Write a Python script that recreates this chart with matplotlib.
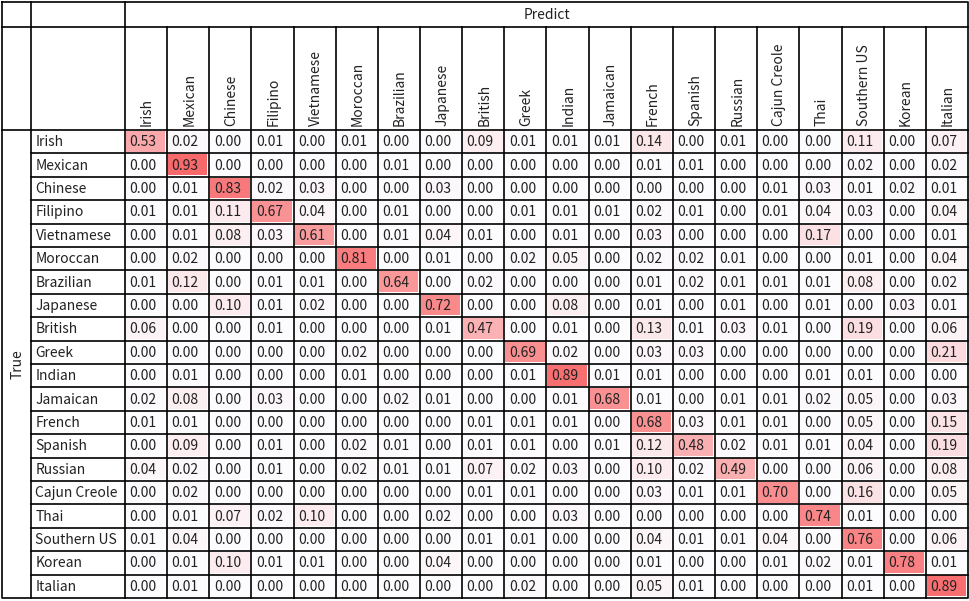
import numpy as np
import matplotlib
matplotlib.use('Agg')
import matplotlib.pyplot as plt
from matplotlib.patches import Rectangle
from matplotlib.colors import LinearSegmentedColormap

labels = ['Irish', 'Mexican', 'Chinese', 'Filipino', 'Vietnamese', 'Moroccan', 'Brazilian',
          'Japanese', 'British', 'Greek', 'Indian', 'Jamaican', 'French', 'Spanish', 'Russian',
          'Cajun Creole', 'Thai', 'Southern US', 'Korean', 'Italian']

row_irish       = [0.53,0.02,0.00,0.01,0.00,0.01,0.00,0.00,0.09,0.01,0.01,0.01,0.14,0.00,0.01,0.00,0.00,0.11,0.00,0.07]
row_mexican     = [0.00,0.93,0.00,0.00,0.00,0.00,0.01,0.00,0.00,0.00,0.00,0.00,0.01,0.01,0.00,0.00,0.00,0.02,0.00,0.02]
row_chinese     = [0.00,0.01,0.83,0.02,0.03,0.00,0.00,0.03,0.00,0.00,0.00,0.00,0.00,0.00,0.00,0.01,0.03,0.01,0.02,0.01]
row_filipino    = [0.01,0.01,0.11,0.67,0.04,0.00,0.01,0.00,0.00,0.01,0.01,0.01,0.02,0.01,0.00,0.01,0.04,0.03,0.00,0.04]
row_vietnamese  = [0.00,0.01,0.08,0.03,0.61,0.00,0.01,0.04,0.01,0.00,0.01,0.00,0.03,0.00,0.00,0.00,0.17,0.00,0.00,0.01]
row_moroccan    = [0.00,0.02,0.00,0.00,0.00,0.81,0.00,0.01,0.00,0.02,0.05,0.00,0.02,0.02,0.01,0.00,0.00,0.01,0.00,0.04]
row_brazilian   = [0.01,0.12,0.00,0.01,0.01,0.00,0.64,0.00,0.02,0.00,0.00,0.00,0.01,0.02,0.01,0.01,0.01,0.08,0.00,0.02]
row_japanese    = [0.00,0.00,0.10,0.01,0.02,0.00,0.00,0.72,0.00,0.00,0.08,0.00,0.01,0.00,0.01,0.00,0.01,0.00,0.03,0.01]
row_british     = [0.06,0.00,0.00,0.01,0.00,0.00,0.00,0.01,0.47,0.00,0.01,0.00,0.13,0.01,0.03,0.01,0.00,0.19,0.00,0.06]
row_greek       = [0.00,0.00,0.00,0.00,0.00,0.02,0.00,0.00,0.00,0.69,0.02,0.00,0.03,0.03,0.00,0.00,0.00,0.00,0.00,0.21]
row_indian      = [0.00,0.01,0.00,0.00,0.00,0.01,0.00,0.00,0.00,0.01,0.89,0.01,0.01,0.00,0.00,0.00,0.01,0.01,0.00,0.00]
row_jamaican    = [0.02,0.08,0.00,0.03,0.00,0.00,0.02,0.01,0.00,0.00,0.01,0.68,0.01,0.00,0.01,0.01,0.02,0.05,0.00,0.03]
row_french      = [0.01,0.01,0.00,0.00,0.00,0.00,0.00,0.00,0.01,0.01,0.01,0.00,0.68,0.03,0.01,0.01,0.00,0.05,0.00,0.15]
row_spanish     = [0.00,0.09,0.00,0.01,0.00,0.02,0.01,0.00,0.01,0.01,0.00,0.01,0.12,0.48,0.02,0.01,0.01,0.04,0.00,0.19]
row_russian     = [0.04,0.02,0.00,0.01,0.00,0.02,0.01,0.01,0.07,0.02,0.03,0.00,0.10,0.02,0.49,0.00,0.00,0.06,0.00,0.08]
row_cajun       = [0.00,0.02,0.00,0.00,0.00,0.00,0.00,0.00,0.01,0.01,0.00,0.00,0.03,0.01,0.01,0.70,0.00,0.16,0.00,0.05]
row_thai        = [0.00,0.01,0.07,0.02,0.10,0.00,0.00,0.02,0.00,0.00,0.03,0.00,0.00,0.00,0.00,0.00,0.74,0.01,0.00,0.00]
row_southern    = [0.01,0.04,0.00,0.00,0.00,0.00,0.00,0.00,0.01,0.01,0.00,0.00,0.04,0.01,0.01,0.04,0.00,0.76,0.00,0.06]
row_korean      = [0.00,0.01,0.10,0.01,0.01,0.00,0.00,0.04,0.00,0.00,0.00,0.00,0.01,0.00,0.00,0.01,0.02,0.01,0.78,0.01]
row_italian     = [0.00,0.01,0.00,0.00,0.00,0.00,0.00,0.00,0.00,0.02,0.00,0.00,0.05,0.01,0.00,0.00,0.00,0.01,0.00,0.89]

M = np.array([row_irish, row_mexican, row_chinese, row_filipino, row_vietnamese, row_moroccan,
              row_brazilian, row_japanese, row_british, row_greek, row_indian, row_jamaican,
              row_french, row_spanish, row_russian, row_cajun, row_thai, row_southern,
              row_korean, row_italian])

plt.rcParams['font.family'] = ['Noto Sans CJK JP', 'DejaVu Sans']
TXT = '#222222'
FS = 10
cmap = LinearSegmentedColormap.from_list('xl', ['#FCFCFF', '#F8696B'])
vmin, vmax = M.min(), M.max()

W, H = 970, 601
fig = plt.figure(figsize=(W/100, H/100), dpi=100)
ax = fig.add_axes([0, 0, 1, 1])
ax.set_xlim(0, W); ax.set_ylim(H, 0); ax.axis('off')

# table geometry (pixels)
L, R, T, B = 2, 968, 2, 598
c0, c1 = 31, 125          # true-label column, row-label column
h1, h2 = 27, 130          # header row boundaries
n = len(labels)
cw = (R - c1) / n
rh = (B - h2) / n
lw = 1.2

# cell fills (slightly inset like the spreadsheet)
for i in range(n):
    for j in range(n):
        x = c1 + j*cw; y = h2 + i*rh
        ax.add_patch(Rectangle((x+0.8, y+0.8), cw-2.6, rh-2.6, facecolor=cmap((M[i, j]-vmin)/(vmax-vmin)),
                               edgecolor='none', zorder=1))
        ax.text(x+4.5, y+rh/2+0.5, f'{M[i, j]:.2f}', ha='left', va='center', fontsize=FS, color=TXT, zorder=3)
    ax.text(c0+4.5, h2 + i*rh + rh/2 + 0.5, labels[i], ha='left', va='center', fontsize=FS, color=TXT, zorder=3)
    ax.text(c1 + i*cw + cw/2 + 1, h2-4, labels[i], rotation=90, ha='center', va='bottom', fontsize=FS, color=TXT, zorder=3)

ax.text((c1+R)/2, (T+h1)/2 + 0.5, 'Predict', ha='center', va='center', fontsize=FS, color=TXT)
ax.text((L+c0)/2 + 1, (h2+B)/2, 'True', rotation=90, ha='center', va='center', fontsize=FS, color=TXT)

# grid lines
kw = dict(color='black', lw=lw, zorder=4, solid_capstyle='projecting')
ax.plot([L, R, R, L, L], [T, T, B, B, T], **kw)
ax.plot([L, R], [h1, h1], **kw)
ax.plot([L, R], [h2, h2], **kw)
for i in range(1, n):
    ax.plot([c0, R], [h2 + i*rh]*2, **kw)
ax.plot([c0, c0], [T, B], **kw)
ax.plot([c1, c1], [T, B], **kw)
for j in range(1, n):
    ax.plot([c1 + j*cw]*2, [h1, B], **kw)

fig.savefig('out.png', dpi=100, facecolor='white')
